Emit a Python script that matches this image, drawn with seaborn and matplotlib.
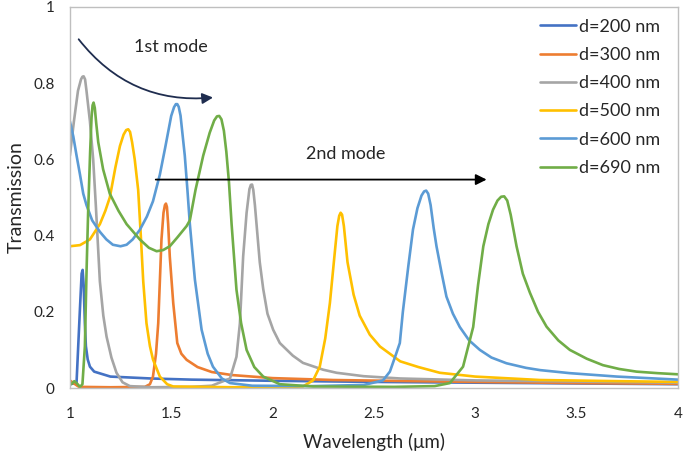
import pandas as pd
import seaborn as sns
import matplotlib
matplotlib.use('Agg')
import matplotlib.pyplot as plt

# values
labels = ['d=200 nm', 'd=300 nm', 'd=400 nm', 'd=500 nm', 'd=600 nm', 'd=690 nm']
colors = ['#4472C4', '#ED7D31', '#A5A5A5', '#FFC000', '#5B9BD5', '#70AD47']

wl_200 = [1.0, 1.02, 1.033, 1.049, 1.058, 1.063, 1.068, 1.074, 1.079, 1.088, 1.099, 1.12, 1.2, 1.4, 1.6,
          2.0, 2.5, 3.0, 3.5, 4.0]
t_200 = [0.01, 0.012, 0.015, 0.2, 0.3, 0.31, 0.27, 0.17, 0.11, 0.075, 0.056, 0.043, 0.03, 0.025, 0.022,
         0.019, 0.016, 0.014, 0.012, 0.01]

wl_300 = [1.0, 1.02, 1.045, 1.2, 1.37, 1.395, 1.41, 1.425, 1.436, 1.452, 1.462, 1.469, 1.474, 1.479, 1.485,
          1.493, 1.51, 1.53, 1.55, 1.576, 1.63, 1.7, 1.8, 2.0, 2.3, 2.7, 3.0, 3.5, 4.0]
t_300 = [0.02, 0.012, 0.003, 0.002, 0.003, 0.01, 0.03, 0.09, 0.17, 0.39, 0.46, 0.48, 0.484, 0.475, 0.43,
         0.345, 0.223, 0.118, 0.09, 0.074, 0.055, 0.042, 0.034, 0.026, 0.021, 0.018, 0.016, 0.013, 0.011]

wl_400 = [1.0, 1.02, 1.04, 1.055, 1.062, 1.068, 1.075, 1.082, 1.099, 1.115, 1.128, 1.148, 1.165, 1.181,
          1.205, 1.23, 1.26, 1.296, 1.4, 1.6, 1.7, 1.79, 1.822, 1.839, 1.855, 1.872, 1.886, 1.893, 1.899,
          1.905, 1.913, 1.921, 1.937, 1.954, 1.975, 2.003, 2.036, 2.1, 2.15, 2.25, 2.316, 2.45, 2.63, 3.0,
          3.5, 4.0]
t_400 = [0.61, 0.7, 0.78, 0.81, 0.817, 0.818, 0.81, 0.78, 0.7, 0.6, 0.48, 0.28, 0.19, 0.135,
         0.08, 0.04, 0.015, 0.005, 0.002, 0.003, 0.006, 0.025, 0.082, 0.17, 0.345, 0.46, 0.522, 0.533, 0.534,
         0.52, 0.48, 0.43, 0.33, 0.26, 0.195, 0.153, 0.118, 0.085, 0.066, 0.048, 0.04, 0.031, 0.025, 0.02,
         0.017, 0.014]

wl_500 = [1.0, 1.05, 1.099, 1.148, 1.175, 1.197, 1.225, 1.247, 1.265, 1.278, 1.288, 1.297, 1.307, 1.32,
          1.337, 1.35, 1.362, 1.378, 1.395, 1.41, 1.444, 1.48, 1.51, 1.8, 2.1, 2.15, 2.2, 2.233, 2.26, 2.283,
          2.307, 2.32, 2.329, 2.336, 2.343, 2.352, 2.37, 2.4, 2.43, 2.48, 2.53, 2.63, 2.72, 2.825, 3.0, 3.32,
          3.7, 4.0]
t_500 = [0.372, 0.375, 0.39, 0.43, 0.465, 0.5, 0.58, 0.635, 0.665, 0.677, 0.679, 0.672, 0.645, 0.6,
         0.52, 0.4, 0.28, 0.17, 0.11, 0.075, 0.03, 0.01, 0.004, 0.002, 0.003, 0.004, 0.02, 0.056, 0.13, 0.223,
         0.355, 0.425, 0.452, 0.46, 0.455, 0.425, 0.33, 0.245, 0.19, 0.14, 0.109, 0.07, 0.055, 0.04, 0.03,
         0.021, 0.018, 0.016]

wl_600 = [1.0, 1.017, 1.033, 1.05, 1.066, 1.082, 1.11, 1.148, 1.18, 1.212, 1.25, 1.28, 1.31, 1.345, 1.38,
          1.41, 1.444, 1.47, 1.5, 1.514, 1.523, 1.53, 1.537, 1.546, 1.555, 1.567, 1.58, 1.592, 1.617, 1.65,
          1.68, 1.706, 1.75, 1.79, 1.9, 2.2, 2.45, 2.545, 2.579, 2.61, 2.628, 2.643, 2.67, 2.693, 2.715,
          2.735, 2.748, 2.758, 2.768, 2.78, 2.795, 2.809, 2.835, 2.858, 2.89, 2.924, 2.97, 3.023, 3.08, 3.154,
          3.25, 3.32, 3.467, 3.7, 4.0]
t_600 = [0.7, 0.66, 0.61, 0.56, 0.51, 0.48, 0.44, 0.41, 0.39, 0.376, 0.372, 0.376, 0.39, 0.415, 0.45,
         0.49, 0.56, 0.63, 0.714, 0.737, 0.745, 0.745, 0.738, 0.715, 0.67, 0.61, 0.52, 0.43, 0.284, 0.153,
         0.09, 0.056, 0.025, 0.013, 0.006, 0.005, 0.008, 0.02, 0.043, 0.09, 0.118, 0.2, 0.32, 0.416, 0.472,
         0.505, 0.516, 0.518, 0.51, 0.48, 0.42, 0.372, 0.3, 0.24, 0.195, 0.16, 0.125, 0.1, 0.08, 0.065,
         0.053, 0.047, 0.039, 0.03, 0.022]

wl_690 = [1.0, 1.01, 1.022, 1.035, 1.05, 1.062, 1.074, 1.082, 1.09, 1.1, 1.107, 1.112, 1.117, 1.123, 1.13,
          1.14, 1.164, 1.197, 1.24, 1.28, 1.345, 1.39, 1.428, 1.46, 1.493, 1.53, 1.576, 1.592, 1.62, 1.658,
          1.69, 1.712, 1.726, 1.737, 1.748, 1.76, 1.772, 1.785, 1.798, 1.822, 1.845, 1.872, 1.91, 1.954,
          2.036, 2.2, 2.6, 2.8, 2.875, 2.94, 2.99, 3.014, 3.04, 3.065, 3.088, 3.11, 3.128, 3.143, 3.158,
          3.175, 3.204, 3.235, 3.27, 3.31, 3.352, 3.41, 3.467, 3.55, 3.63, 3.71, 3.796, 3.9, 4.0]
t_690 = [0.008, 0.012, 0.018, 0.012, 0.003, 0.01, 0.109, 0.3, 0.46, 0.62, 0.71, 0.742, 0.749, 0.735, 0.695,
         0.645, 0.574, 0.51, 0.465, 0.43, 0.39, 0.368, 0.359, 0.362, 0.372, 0.395, 0.425, 0.44, 0.52, 0.61,
         0.67, 0.702, 0.713, 0.714, 0.705, 0.675, 0.62, 0.54, 0.43, 0.258, 0.17, 0.1, 0.055, 0.03,
         0.01, 0.004, 0.003, 0.005, 0.013, 0.056, 0.16, 0.27, 0.372, 0.43, 0.468, 0.492, 0.502, 0.503, 0.492,
         0.455, 0.372, 0.3, 0.25, 0.2, 0.161, 0.125, 0.1, 0.077, 0.06, 0.05, 0.043, 0.039, 0.036]

x_ticks = [1, 1.5, 2, 2.5, 3, 3.5, 4]
x_tick_labels = ['1', '1.5', '2', '2.5', '3', '3.5', '4']
y_ticks = [0, 0.2, 0.4, 0.6, 0.8, 1]
y_tick_labels = ['0', '0.2', '0.4', '0.6', '0.8', '1']

all_wl = [wl_200, wl_300, wl_400, wl_500, wl_600, wl_690]
all_t = [t_200, t_300, t_400, t_500, t_600, t_690]
frames = []
for lab, w, t in zip(labels, all_wl, all_t):
    frames.append(pd.DataFrame({'wl': w, 'T': t, 'd': lab}))
df = pd.concat(frames, ignore_index=True)

sns.set_theme(style='white')
plt.rcParams['font.family'] = ['Lato', 'DejaVu Sans']

fig = plt.figure(figsize=(6.85, 4.58), dpi=100)
ax = fig.add_axes([0.102, 0.1528, 0.8876, 0.832])

sns.lineplot(data=df, x='wl', y='T', hue='d', palette=colors, estimator=None,
             sort=False, linewidth=1.9, ax=ax)
for ln in ax.lines:
    ln.set_solid_joinstyle('round')

ax.set_xlim(1, 4)
ax.set_ylim(0, 1)
ax.set_xticks(x_ticks)
ax.set_xticklabels(x_tick_labels)
ax.set_yticks(y_ticks)
ax.set_yticklabels(y_tick_labels)
ax.tick_params(axis='both', which='major', direction='out', length=5, width=1,
               color='#BFBFBF', labelsize=11, labelcolor='#262626', pad=6)
ax.tick_params(axis='x', pad=9)
for s in ax.spines.values():
    s.set_color('#BFBFBF')
    s.set_linewidth(1)
ax.set_xlabel('Wavelength (μm)', fontsize=13.5, color='#262626', labelpad=8)
ax.set_ylabel('Transmission', fontsize=14, color='#262626', labelpad=6)

# mode arrows
ax.annotate('', xy=(1.72, 0.763), xytext=(1.035, 0.921),
            arrowprops=dict(arrowstyle='-|>', connectionstyle='arc3,rad=0.28',
                            color='#1F2D4F', lw=1.3, mutation_scale=16))
ax.text(1.5, 0.895, '1st mode', fontsize=13, ha='center', va='center', color='#262626')
ax.annotate('', xy=(3.07, 0.547), xytext=(1.41, 0.547),
            arrowprops=dict(arrowstyle='-|>', color='black', lw=1.3, mutation_scale=16))
ax.text(2.36, 0.613, '2nd mode', fontsize=13, ha='center', va='center', color='#262626')

ax.legend(frameon=False, loc='upper right', bbox_to_anchor=(0.997, 1.012), fontsize=13,
          handlelength=2.0, handletextpad=0.15, labelspacing=0.68, title=None)

fig.savefig('out.png', dpi=100)
